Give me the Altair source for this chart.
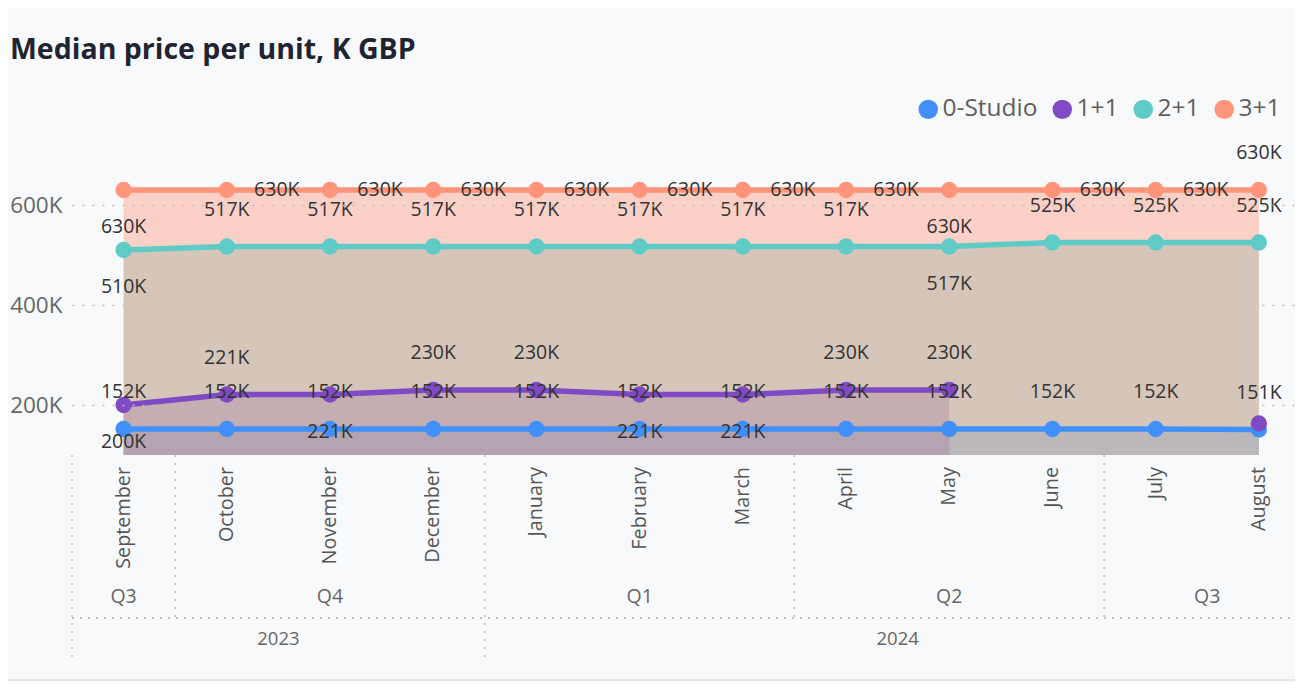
import altair as alt
import pandas as pd

# ---------------- data ----------------
months = ["September", "October", "November", "December", "January", "February",
          "March", "April", "May", "June", "July", "August"]
quarters = ["Q3", "Q4", "Q4", "Q4", "Q1", "Q1", "Q1", "Q2", "Q2", "Q2", "Q3", "Q3"]
years = ["2023", "2023", "2023", "2023", "2024", "2024", "2024", "2024",
         "2024", "2024", "2024", "2024"]

series_names = ["0-Studio", "1+1", "2+1", "3+1"]
studio_0 = [152, 152, 152, 152, 152, 152, 152, 152, 152, 152, 152, 151]
one_plus_one = [200, 221, 221, 230, 230, 221, 221, 230, 230, None, None, 163]
two_plus_one = [510, 517, 517, 517, 517, 517, 517, 517, 517, 525, 525, 525]
three_plus_one = [630, 630, 630, 630, 630, 630, 630, 630, 630, 630, 630, 630]
y_ticks = [200, 400, 600]

# ---------------- styling / layout ----------------
colors = ["#4190FA", "#7F4AC4", "#5ECBC6", "#FE957B"]
label_place = {
    "0-Studio": ["above"] * 12,
    "1+1": ["below", "above", "below", "above", "above", "below", "below",
            "above", "above", "none", "none", "none"],
    "2+1": ["below"] + ["above"] * 7 + ["below"] + ["above"] * 3,
    "3+1": ["below"] + ["right"] * 7 + ["below", "right", "right", "above"],
}
FONT = "Open Sans"
W, H = 1223, 300
Y_MIN, Y_MAX = 100, 700
X_DOMAIN = [-0.5, 11.35]

values = [studio_0, one_plus_one, two_plus_one, three_plus_one]
rows = []
for s, vals in zip(series_names, values):
    seg = 0
    for i, v in enumerate(vals):
        if v is None:
            seg += 1
            continue
        rows.append({"idx": i, "month": months[i], "series": s, "value": v,
                     "label": f"{v}K", "place": label_place[s][i], "seg": seg})
df = pd.DataFrame(rows)

month_df = pd.DataFrame({"idx": list(range(len(months))), "month": months})

# quarter and year spans
def spans(keys):
    out = []
    start = 0
    for i in range(1, len(keys) + 1):
        if i == len(keys) or keys[i] != keys[start]:
            out.append({"label": keys[start].split("|")[-1], "start": start - 0.5,
                        "end": i - 0.5, "center": (start + i - 1) / 2})
            start = i
    return out

q_keys = [f"{y}|{q}" for y, q in zip(years, quarters)]
q_df = pd.DataFrame(spans(q_keys))
y_df = pd.DataFrame(spans(years))
year_bounds = set(y_df["start"].tolist())
q_sep = pd.DataFrame({"pos": [p for p in q_df["start"].tolist() if p not in year_bounds]})
y_sep = pd.DataFrame({"pos": sorted(year_bounds)})

x_scale = alt.Scale(domain=X_DOMAIN, nice=False, zero=False)
x_enc = alt.X("idx:Q", scale=x_scale, axis=None)
y_scale = alt.Scale(domain=[Y_MIN, Y_MAX], nice=False, zero=False)
y_enc = alt.Y("value:Q", scale=y_scale, title=None,
              axis=alt.Axis(values=y_ticks, labelExpr="datum.value + 'K'",
                            domain=False, ticks=False, labelPadding=10,
                            labelFontSize=22.5, labelColor="#666666", labelFont=FONT,
                            grid=True, gridDash=[2, 8], gridColor="#BDBDBD",
                            gridWidth=1.6, zindex=1))

base = alt.Chart(df)
layers = []

# areas (filled down to the bottom of the axis)
for s, c in zip(series_names, colors):
    layers.append(
        base.transform_filter(alt.datum.series == s)
        .mark_area(opacity=0.4, color=c)
        .encode(x=x_enc, y=y_enc, y2=alt.datum(Y_MIN), detail="seg:N")
    )

# lines
for s, c in zip(series_names, colors):
    layers.append(
        base.transform_filter(alt.datum.series == s)
        .mark_line(color=c, strokeWidth=5.5)
        .encode(x=x_enc, y=y_enc, detail="seg:N")
    )

# points (carry the legend)
layers.append(
    base.mark_point(filled=True, size=265, opacity=1)
    .encode(
        x=x_enc, y=y_enc,
        color=alt.Color("series:N",
                        scale=alt.Scale(domain=series_names, range=colors),
                        legend=alt.Legend(orient="none", legendX=844, legendY=-58,
                                          direction="horizontal", title=None,
                                          symbolType="circle", symbolSize=380,
                                          symbolStrokeWidth=0, symbolOpacity=1,
                                          labelFontSize=24.5, labelFont=FONT,
                                          labelColor="#605E5C", labelOffset=2,
                                          columnPadding=12)),
        order=alt.Order("idx:Q"),
    )
)

# data labels
place_offsets = {"above": (0, -37), "below": (0, 37), "right": (50, 0)}
for p, (ddx, ddy) in place_offsets.items():
    layers.append(
        base.transform_filter(alt.datum.place == p)
        .mark_text(dx=ddx, dy=ddy, fontSize=19.5, font=FONT, color="#333333",
                   baseline="middle", align="center")
        .encode(x=x_enc, y=y_enc, text="label:N")
    )

# month axis labels
layers.append(
    alt.Chart(month_df).mark_text(angle=270, align="right", baseline="middle",
                                  fontSize=19.8, font=FONT, color="#555555")
    .encode(x=x_enc, y=alt.value(H + 12), text="month:N")
)
# quarter labels
layers.append(
    alt.Chart(q_df).mark_text(baseline="middle", fontSize=19.5, font=FONT, color="#666666")
    .encode(x=alt.X("center:Q", scale=x_scale, axis=None), y=alt.value(H + 142), text="label:N")
)
# year labels
layers.append(
    alt.Chart(y_df).mark_text(baseline="middle", fontSize=18.5, font=FONT, color="#666666")
    .encode(x=alt.X("center:Q", scale=x_scale, axis=None), y=alt.value(H + 184), text="label:N")
)
# separators
sep_style = dict(strokeDash=[2, 6], color="#BDBDBD", strokeWidth=1.5)
layers.append(
    alt.Chart(q_sep).mark_rule(**sep_style)
    .encode(x=alt.X("pos:Q", scale=x_scale, axis=None), y=alt.value(H), y2=alt.value(H + 163))
)
layers.append(
    alt.Chart(y_sep).mark_rule(**sep_style)
    .encode(x=alt.X("pos:Q", scale=x_scale, axis=None), y=alt.value(H), y2=alt.value(H + 205))
)
layers.append(
    alt.Chart(y_sep).mark_rule(**sep_style)
    .encode(x=alt.value(0), x2=alt.value(W), y=alt.value(H + 163))
)
# bottom border
layers.append(
    alt.Chart(y_sep).mark_rule(color="#E6E6E6", strokeWidth=2)
    .encode(x=alt.value(-64), x2=alt.value(W), y=alt.value(H + 225))
)
# title
layers.append(
    alt.Chart(pd.DataFrame({"t": ["Median price per unit, K GBP"]}))
    .mark_text(align="left", baseline="alphabetic", fontSize=28.5, fontWeight="bold",
               font=FONT, color="#1F2430")
    .encode(x=alt.value(-62), y=alt.value(-96), text="t:N")
)

chart = (
    alt.layer(*layers)
    .properties(width=W, height=H,
                autosize=alt.AutoSizeParams(type="none"),
                padding={"left": 64, "top": 147, "right": 0, "bottom": 228})
    .configure(background="#F8F9FB")
    .configure_view(stroke=None)
)

chart.save("out.html", embed_options={"renderer": "svg", "actions": False})
